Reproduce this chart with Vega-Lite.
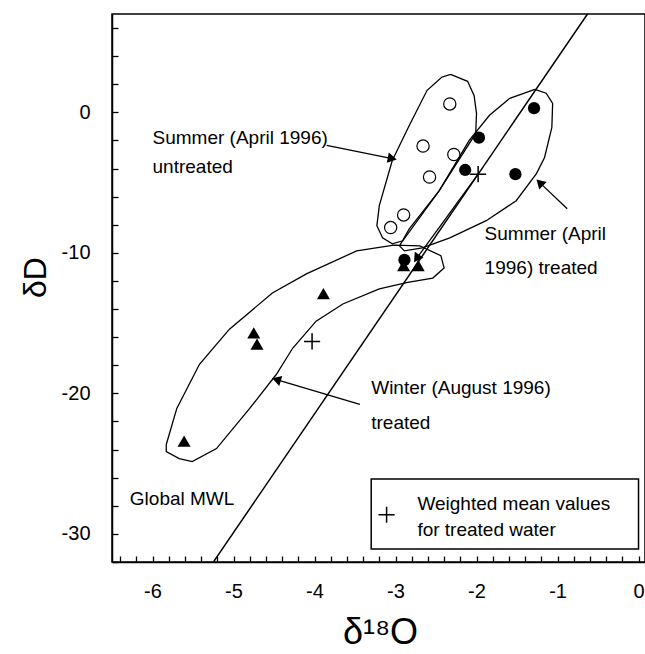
{
  "$schema": "https://vega.github.io/schema/vega-lite/v6.json",
  "width": 533,
  "height": 548,
  "autosize": "none",
  "padding": {"left": 112, "top": 14, "right": 0, "bottom": 92},
  "background": "white",
  "config": {
    "view": {"stroke": "black", "strokeWidth": 1.5},
    "font": "Liberation Sans",
    "axis": {
      "domainColor": "black",
      "domainWidth": 1.5,
      "tickColor": "black",
      "tickWidth": 1.3,
      "ticks": true,
      "labelColor": "black",
      "labelFont": "Liberation Sans",
      "labelFontSize": 20,
      "titleFont": "Liberation Sans",
      "titleFontWeight": "normal",
      "titleColor": "black",
      "grid": false,
      "labelOverlap": false,
      "labelFlush": false
    }
  },
  "datasets": {
    "untreated": [
      {"o18": -2.33, "d": 0.6},
      {"o18": -2.66, "d": -2.4},
      {"o18": -2.28, "d": -3.0},
      {"o18": -2.58, "d": -4.6},
      {"o18": -2.9, "d": -7.3},
      {"o18": -3.06, "d": -8.2}
    ],
    "summerTreated": [
      {"o18": -1.29, "d": 0.3},
      {"o18": -1.97, "d": -1.8},
      {"o18": -2.14, "d": -4.1},
      {"o18": -1.52, "d": -4.4},
      {"o18": -2.89, "d": -10.5}
    ],
    "winterTreated": [
      {"o18": -2.9, "d": -10.9},
      {"o18": -2.72, "d": -10.9},
      {"o18": -3.89, "d": -12.9},
      {"o18": -4.75, "d": -15.7},
      {"o18": -4.71, "d": -16.5},
      {"o18": -5.61, "d": -23.4}
    ],
    "means": [
      {"o18": -1.98, "d": -4.4},
      {"o18": -4.03, "d": -16.3}
    ],
    "mwl": [
      {"o18": -5.26, "d": -32.1},
      {"o18": -0.63, "d": 7}
    ],
    "envelopes": [
      {"group": "untreated", "i": 0, "o18": -2.32, "d": 2.71},
      {"group": "untreated", "i": 1, "o18": -2.11, "d": 2.21},
      {"group": "untreated", "i": 2, "o18": -2.03, "d": 1.21},
      {"group": "untreated", "i": 3, "o18": -2.0, "d": -0.07},
      {"group": "untreated", "i": 4, "o18": -2.01, "d": -1.5},
      {"group": "untreated", "i": 5, "o18": -2.46, "d": -5.57},
      {"group": "untreated", "i": 6, "o18": -2.91, "d": -9.14},
      {"group": "untreated", "i": 7, "o18": -3.04, "d": -9.36},
      {"group": "untreated", "i": 8, "o18": -3.16, "d": -8.93},
      {"group": "untreated", "i": 9, "o18": -3.23, "d": -8.07},
      {"group": "untreated", "i": 10, "o18": -3.2, "d": -6.64},
      {"group": "untreated", "i": 11, "o18": -3.04, "d": -3.43},
      {"group": "untreated", "i": 12, "o18": -2.83, "d": -0.93},
      {"group": "untreated", "i": 13, "o18": -2.61, "d": 1.57},
      {"group": "untreated", "i": 14, "o18": -2.43, "d": 2.5},
      {"group": "untreated", "i": 15, "o18": -2.32, "d": 2.71},

      {"group": "summer", "i": 0, "o18": -1.28, "d": 1.64},
      {"group": "summer", "i": 1, "o18": -1.14, "d": 1.36},
      {"group": "summer", "i": 2, "o18": -1.06, "d": 0.64},
      {"group": "summer", "i": 3, "o18": -1.07, "d": -1.07},
      {"group": "summer", "i": 4, "o18": -1.16, "d": -3.21},
      {"group": "summer", "i": 5, "o18": -1.26, "d": -4.36},
      {"group": "summer", "i": 6, "o18": -1.51, "d": -6.29},
      {"group": "summer", "i": 7, "o18": -1.88, "d": -7.71},
      {"group": "summer", "i": 8, "o18": -2.33, "d": -8.93},
      {"group": "summer", "i": 9, "o18": -2.67, "d": -9.64},
      {"group": "summer", "i": 10, "o18": -2.89, "d": -9.86},
      {"group": "summer", "i": 11, "o18": -2.95, "d": -9.5},
      {"group": "summer", "i": 12, "o18": -2.83, "d": -8.29},
      {"group": "summer", "i": 13, "o18": -2.46, "d": -5.57},
      {"group": "summer", "i": 14, "o18": -2.09, "d": -2.0},
      {"group": "summer", "i": 15, "o18": -1.84, "d": -0.21},
      {"group": "summer", "i": 16, "o18": -1.59, "d": 1.0},
      {"group": "summer", "i": 17, "o18": -1.28, "d": 1.64},

      {"group": "winter", "i": 0, "o18": -5.83, "d": -23.64},
      {"group": "winter", "i": 1, "o18": -5.7, "d": -21.07},
      {"group": "winter", "i": 2, "o18": -5.42, "d": -17.93},
      {"group": "winter", "i": 3, "o18": -5.05, "d": -15.43},
      {"group": "winter", "i": 4, "o18": -4.52, "d": -12.86},
      {"group": "winter", "i": 5, "o18": -4.1, "d": -11.5},
      {"group": "winter", "i": 6, "o18": -3.48, "d": -9.86},
      {"group": "winter", "i": 7, "o18": -3.02, "d": -9.45},
      {"group": "winter", "i": 8, "o18": -2.7, "d": -9.5},
      {"group": "winter", "i": 9, "o18": -2.44, "d": -10.2},
      {"group": "winter", "i": 10, "o18": -2.4, "d": -11.07},
      {"group": "winter", "i": 11, "o18": -2.54, "d": -11.79},
      {"group": "winter", "i": 12, "o18": -2.85, "d": -12.1},
      {"group": "winter", "i": 13, "o18": -3.2, "d": -12.57},
      {"group": "winter", "i": 14, "o18": -3.65, "d": -13.64},
      {"group": "winter", "i": 15, "o18": -3.98, "d": -14.86},
      {"group": "winter", "i": 16, "o18": -4.27, "d": -16.79},
      {"group": "winter", "i": 17, "o18": -4.47, "d": -18.64},
      {"group": "winter", "i": 18, "o18": -4.8, "d": -21.07},
      {"group": "winter", "i": 19, "o18": -5.21, "d": -23.93},
      {"group": "winter", "i": 20, "o18": -5.51, "d": -24.86},
      {"group": "winter", "i": 21, "o18": -5.67, "d": -24.64},
      {"group": "winter", "i": 22, "o18": -5.83, "d": -24.14},
      {"group": "winter", "i": 23, "o18": -5.83, "d": -23.64}
    ],
    "labels": [
      {"o18": -6.0, "d": -1.8, "text": "Summer (April 1996)"},
      {"o18": -6.0, "d": -3.9, "text": "untreated"},
      {"o18": -1.9, "d": -8.64, "text": "Summer (April"},
      {"o18": -1.9, "d": -11.07, "text": "1996) treated"},
      {"o18": -3.3, "d": -19.64, "text": "Winter (August 1996)"},
      {"o18": -3.3, "d": -22.12, "text": "treated"},
      {"o18": -6.28, "d": -27.5, "text": "Global MWL"},
      {"o18": -2.73, "d": -27.86, "text": "Weighted mean values"},
      {"o18": -2.73, "d": -29.71, "text": "for treated water"}
    ],
    "arrowUntreated": [
      {"o18": -3.85, "d": -2.35},
      {"o18": -3.04, "d": -3.29}
    ],
    "arrowSummer": [
      {"o18": -0.88, "d": -6.86},
      {"o18": -1.22, "d": -5.0}
    ],
    "arrowWinter": [
      {"o18": -3.44, "d": -20.79},
      {"o18": -4.47, "d": -19.02}
    ],
    "arrowMean": [
      {"o18": -1.98, "d": -4.4},
      {"o18": -2.74, "d": -10.4}
    ],
    "legendBox": [
      {"x1": -3.3, "x2": 0.0, "y1": -26.1, "y2": -31.07}
    ],
    "legendCross": [
      {"o18": -3.11, "d": -28.64}
    ]
  },
  "encoding": {
    "x": {
      "field": "o18",
      "type": "quantitative",
      "scale": {"domain": [-6.5, 0.08], "nice": false, "zero": false},
      "axis": {
        "title": "δ¹⁸O",
        "titleFontSize": 36,
        "titleBaseline": "middle",
        "titleY": 70,
        "titleX": 268,
        "values": [-6.4, -6.2, -6, -5.8, -5.6, -5.4, -5.2, -5, -4.8, -4.6, -4.4, -4.2, -4, -3.8, -3.6, -3.4, -3.2, -3, -2.8, -2.6, -2.4, -2.2, -2, -1.8, -1.6, -1.4, -1.2, -1, -0.8, -0.6, -0.4, -0.2, 0],
        "labelExpr": "abs(datum.value - round(datum.value)) < 0.001 ? toString(round(datum.value)) : ''",
        "tickSize": -6,
        "labelPadding": 25,
        "encode": {
          "ticks": {
            "update": {
              "y2": {"signal": "abs(datum.value - round(datum.value)) < 0.001 ? -8 : -4"}
            }
          }
        }
      }
    },
    "y": {
      "field": "d",
      "type": "quantitative",
      "scale": {"domain": [-32, 7], "nice": false, "zero": false},
      "axis": {
        "title": "δD",
        "titleFontSize": 32,
        "titleBaseline": "middle",
        "titleX": -77,
        "titleY": 263,
        "values": [-32, -30, -28, -26, -24, -22, -20, -18, -16, -14, -12, -10, -8, -6, -4, -2, 0, 2, 4, 6],
        "labelExpr": "datum.value % 10 === 0 ? toString(datum.value) : ''",
        "tickSize": -6,
        "labelPadding": 28,
        "encode": {
          "ticks": {
            "update": {
              "x2": {"signal": "datum.value % 10 === 0 ? 8 : 4"}
            }
          }
        }
      }
    }
  },
  "layer": [
    {
      "data": {"name": "mwl"},
      "mark": {"type": "line", "color": "black", "strokeWidth": 1.5, "clip": true},
      "encoding": {}
    },
    {
      "data": {"name": "envelopes"},
      "mark": {"type": "line", "color": "black", "strokeWidth": 1.3, "interpolate": "linear"},
      "encoding": {
        "detail": {"field": "group"},
        "order": {"field": "i", "type": "quantitative"}
      }
    },
    {
      "data": {"name": "arrowMean"},
      "mark": {"type": "line", "color": "black", "strokeWidth": 1.3},
      "encoding": {}
    },
    {
      "data": {"name": "arrowMean"},
      "transform": [{"filter": "datum.d < -8"}],
      "mark": {"type": "point", "shape": "triangle-up", "filled": true, "color": "black", "size": 110, "angle": 214, "opacity": 1}
    },
    {
      "data": {"name": "untreated"},
      "mark": {"type": "point", "shape": "circle", "filled": false, "color": "black", "strokeWidth": 1.2, "size": 150, "opacity": 1}
    },
    {
      "data": {"name": "summerTreated"},
      "mark": {"type": "point", "shape": "circle", "filled": true, "color": "black", "size": 150, "opacity": 1}
    },
    {
      "data": {"name": "winterTreated"},
      "mark": {"type": "point", "shape": "triangle-up", "filled": true, "color": "black", "size": 170, "opacity": 1}
    },
    {
      "data": {"name": "means"},
      "mark": {"type": "point", "shape": "M-1,0H1M0,-1V1", "filled": false, "color": "black", "strokeWidth": 1.5, "size": 260, "opacity": 1}
    },
    {
      "data": {"name": "arrowUntreated"},
      "mark": {"type": "line", "color": "black", "strokeWidth": 1.3},
      "encoding": {}
    },
    {
      "data": {"name": "arrowUntreated"},
      "transform": [{"filter": "datum.o18 > -3.5"}],
      "mark": {"type": "point", "shape": "triangle-up", "filled": true, "color": "black", "size": 110, "angle": 101, "opacity": 1}
    },
    {
      "data": {"name": "arrowSummer"},
      "mark": {"type": "line", "color": "black", "strokeWidth": 1.3},
      "encoding": {}
    },
    {
      "data": {"name": "arrowSummer"},
      "transform": [{"filter": "datum.o18 < -1"}],
      "mark": {"type": "point", "shape": "triangle-up", "filled": true, "color": "black", "size": 110, "angle": 315, "opacity": 1}
    },
    {
      "data": {"name": "arrowWinter"},
      "mark": {"type": "line", "color": "black", "strokeWidth": 1.3},
      "encoding": {}
    },
    {
      "data": {"name": "arrowWinter"},
      "transform": [{"filter": "datum.o18 < -4"}],
      "mark": {"type": "point", "shape": "triangle-up", "filled": true, "color": "black", "size": 110, "angle": 287, "opacity": 1}
    },
    {
      "data": {"name": "legendBox"},
      "mark": {"type": "rect", "fill": "white", "stroke": "black", "strokeWidth": 1.5},
      "encoding": {
        "x": {"field": "x1", "type": "quantitative"},
        "x2": {"field": "x2"},
        "y": {"field": "y1", "type": "quantitative"},
        "y2": {"field": "y2"}
      }
    },
    {
      "data": {"name": "legendCross"},
      "mark": {"type": "point", "shape": "M-1,0H1M0,-1V1", "filled": false, "color": "black", "strokeWidth": 1.5, "size": 260, "opacity": 1}
    },
    {
      "data": {"name": "labels"},
      "mark": {"type": "text", "align": "left", "baseline": "middle", "fontSize": 19, "font": "Liberation Sans", "color": "black"},
      "encoding": {"text": {"field": "text"}}
    }
  ]
}
